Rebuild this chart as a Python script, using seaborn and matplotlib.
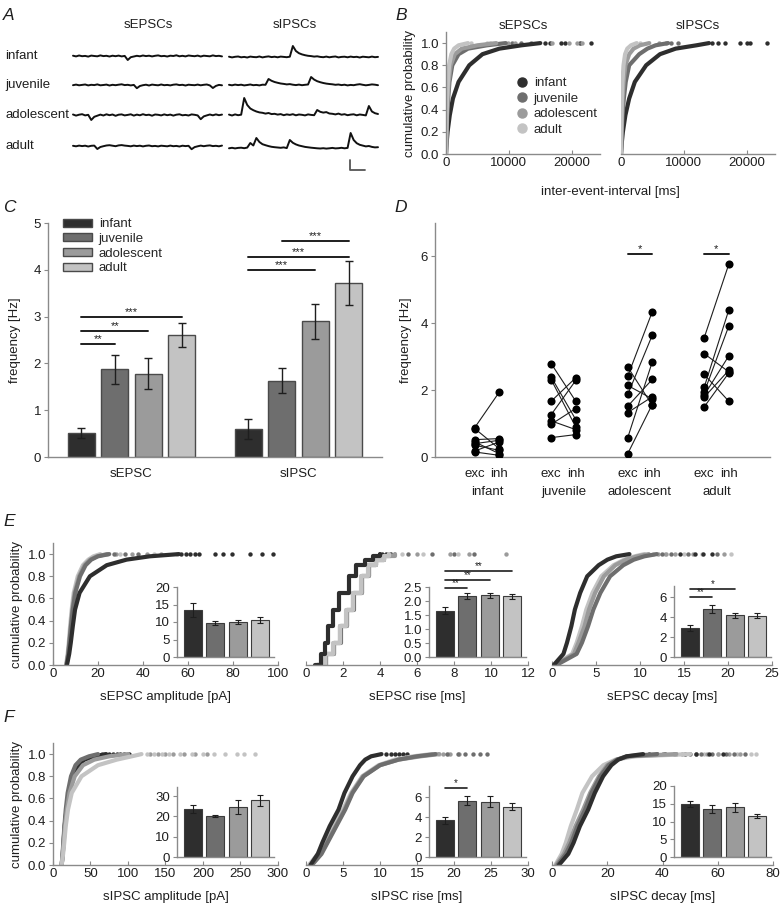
import numpy as np
import pandas as pd
import matplotlib
matplotlib.use("Agg")
import matplotlib.pyplot as plt
import seaborn as sns
from matplotlib.lines import Line2D

sns.set_theme(style="white")
plt.rcParams["font.family"] = ["Liberation Sans", "DejaVu Sans"]
FS = 9.5
plt.rcParams["font.size"] = FS

# ---------------------------------------------------------------- data
ages       = ["infant", "juvenile", "adolescent", "adult"]
age_colors = ["#2e2e2e", "#6e6e6e", "#9b9b9b", "#c3c3c3"]

# A: example traces (arbitrary units, sampled evenly along each sweep)
e_infant = [0.3,-0.4,0.5,-0.2,0.1,-0.6,0.4,0.0,-0.3,0.6,-0.1,0.2,-0.5,0.3,-0.2,0.4,-0.4,0.1,-4.0,-1.2,-0.5,0.2,-0.3,0.5,-0.1,
            0.3,-0.4,0.2,0.6,-0.2,0.1,-0.5,0.3,0.0,0.7,-0.3,0.2,-0.4,0.5,0.1,-0.2,0.4,-0.5,0.3,0.0,-0.3,0.6,-0.1,0.2,-0.4]
e_juvenile = [-0.2,0.4,-0.3,0.1,0.5,-0.4,0.2,-0.1,0.6,-0.3,0.0,0.4,-0.5,0.2,-0.2,0.3,0.7,-0.1,0.2,-0.4,0.1,-3.2,-1.0,-0.2,0.3,
              -0.5,0.4,0.0,-0.3,0.5,-0.2,0.1,-0.4,0.3,0.6,-0.1,0.2,-0.5,0.3,0.0,-0.2,0.4,-0.3,0.2,0.5,-0.4,-3.0,-0.9,0.1,-0.3]
e_adolescent = [0.5,-0.6,0.3,0.8,-0.4,0.2,-5.0,-1.8,-0.7,0.4,-0.5,0.7,-0.2,0.5,-0.8,0.3,0.6,-0.4,0.1,0.7,-0.6,0.4,-0.3,0.8,-0.1,
                0.3,-0.7,0.5,0.2,-0.4,0.6,-0.2,0.4,-0.6,0.3,0.7,-0.3,0.1,-0.5,0.6,0.2,-0.4,-4.2,-1.4,-0.4,0.5,-0.3,0.6,-0.2,0.4]
e_adult = [0.2,-0.3,0.4,-0.1,0.3,-0.5,0.2,0.4,-3.0,-1.0,-0.2,0.5,0.8,0.3,-0.2,0.6,0.9,0.4,0.1,-0.3,0.4,-0.1,0.3,-0.4,0.2,
           0.5,-0.2,0.1,-0.4,0.3,0.0,-0.3,0.4,-0.2,0.1,-0.5,0.3,-0.1,0.2,-3.2,-1.1,-0.3,0.4,-0.2,0.3,0.6,-0.1,0.2,-0.3,0.4]
i_infant = [0.3,-0.4,0.2,0.5,-0.3,0.1,-0.5,0.4,0.0,-0.2,0.5,-0.4,0.2,0.6,-0.1,0.3,-0.3,0.4,0.1,-0.2,0.3,11.0,6.0,3.8,2.6,
            1.8,1.2,0.9,0.4,0.7,0.1,-0.2,0.4,-0.3,0.2,0.5,-0.4,0.1,0.3,-0.3,0.4,-0.1,0.2,-0.5,0.3,0.0,-0.3,0.4,-0.2,0.1]
i_juvenile = [0.2,-0.3,0.4,-0.1,0.3,-0.4,0.0,0.5,-0.2,0.1,-0.4,0.3,0.2,6.0,4.2,3.0,2.2,1.5,1.1,0.6,0.9,0.3,-0.1,0.4,-0.2,
              0.2,0.5,8.0,5.4,3.8,2.8,2.0,1.4,1.0,0.7,0.2,0.5,-0.1,0.3,-0.4,0.1,-0.2,0.4,0.8,0.2,-0.3,0.1,0.6,0.3,-0.2]
i_adolescent = [0.4,-0.5,0.6,-0.2,0.3,17.0,10.0,6.5,4.8,3.5,2.6,2.2,1.4,2.0,0.9,1.2,0.4,0.9,-0.2,0.6,0.1,0.8,-0.3,0.5,0.2,
                -0.4,0.6,0.1,-0.2,5.0,3.2,2.4,2.9,1.5,1.2,0.6,1.4,0.3,0.8,-0.2,0.4,0.7,-0.3,0.5,0.1,-0.4,9.0,3.5,1.8,1.0]
i_adult = [-0.3,0.2,-0.4,0.1,0.3,-0.2,0.4,5.0,2.5,10.0,6.0,3.8,2.8,1.9,1.2,0.8,0.5,0.2,0.6,-0.1,8.0,5.2,3.6,2.5,1.8,
           1.1,0.7,0.3,0.0,-0.3,-0.5,-0.2,-0.6,-0.3,0.1,-0.4,-0.2,0.2,-0.3,0.1,15.0,8.0,4.8,3.2,2.4,1.6,2.0,1.1,0.6,0.8]

# cumulative probability levels at which the distributions were read
cdf_levels = [0, 0.1, 0.2, 0.35, 0.5, 0.65, 0.8, 0.9, 0.95, 0.98, 1.0]

# B: inter-event intervals [ms]
iei_exc = [[0, 100, 250, 600, 1100, 2000, 3700, 5800, 8500, 12000, 15000],
           [0, 40, 100, 200, 350, 550, 1000, 2000, 3500, 6500, 9500],
           [0, 30, 70, 150, 260, 420, 750, 1400, 2500, 5000, 8000],
           [0, 20, 50, 100, 180, 300, 500, 850, 1300, 2000, 3500]]
iei_exc_tail = [[15800, 16500, 18300, 19000, 21300, 23000], [10500, 12000, 13500],
                [9800, 11000, 16800, 19500, 20800, 21700], [4000, 6500, 7000]]
iei_inh = [[0, 120, 300, 700, 1300, 2200, 4000, 6200, 8700, 12000, 14000],
           [0, 50, 110, 250, 450, 750, 1300, 2900, 4200, 5500, 7500],
           [0, 30, 70, 150, 260, 420, 700, 1300, 2000, 3000, 4500],
           [0, 15, 35, 80, 140, 230, 400, 650, 1000, 1600, 2500]]
iei_inh_tail = [[14500, 15500, 16500, 19000, 20000, 20500, 23300], [8000, 9000],
                [6000, 7200], [3000]]

# C: mean frequency +/- SEM [Hz]
freq_types    = ["sEPSC", "sIPSC"]
freq_exc      = [0.51, 1.87, 1.78, 2.60]
freq_exc_sem  = [0.11, 0.32, 0.33, 0.26]
freq_inh      = [0.60, 1.63, 2.90, 3.72]
freq_inh_sem  = [0.21, 0.27, 0.37, 0.47]
sig_c_exc = [(0, 1, 2.41, "**"), (0, 2, 2.69, "**"), (0, 3, 2.99, "***")]
sig_c_inh = [(0, 2, 4.00, "***"), (0, 3, 4.28, "***"), (1, 3, 4.62, "***")]

# D: paired exc / inh frequency per cell [Hz]
d_exc = [[0.88, 0.85, 0.52, 0.45, 0.40, 0.35, 0.18, 0.15],
         [2.79, 2.39, 2.31, 1.67, 1.27, 1.08, 0.98, 0.58],
         [2.69, 2.42, 2.14, 1.87, 1.52, 1.33, 0.58, 0.10],
         [3.57, 3.09, 2.47, 2.09, 1.94, 1.85, 1.79, 1.50]]
d_inh = [[1.94, 0.25, 0.55, 0.10, 0.50, 0.20, 0.45, 0.05],
         [1.67, 1.12, 0.90, 2.37, 2.29, 0.82, 1.45, 0.67],
         [1.55, 4.34, 1.74, 3.64, 2.32, 1.80, 2.84, 1.57],
         [5.76, 2.55, 1.67, 4.39, 3.91, 3.02, 2.59, 2.51]]
d_sig = [2, 3]

# E: sEPSC kinetics
e_amp = [[6.2, 7.2, 7.9, 8.8, 9.8, 11.8, 16.4, 23.9, 32.7, 43, 56],
         [6.0, 6.8, 7.3, 8.0, 8.8, 9.9, 12.0, 14.5, 17, 20, 25],
         [6.0, 6.7, 7.2, 7.9, 8.6, 9.6, 11.6, 14, 16.5, 19.5, 24],
         [5.8, 6.5, 7.0, 7.6, 8.3, 9.2, 11.0, 13.3, 15.7, 18, 21]]
e_amp_tail = [[57, 59, 61, 63, 65, 72, 75.5, 79.5, 87.5, 93, 98], [27, 32, 38],
              [28, 35, 42, 48], [24, 30, 45, 55]]
e_rise = [[0.5, 0.8, 1.0, 1.2, 1.45, 1.8, 2.3, 2.7, 3.2, 3.6, 4.0],
          [0.6, 1.1, 1.5, 1.9, 2.2, 2.6, 3.0, 3.4, 3.8, 4.2, 4.6],
          [0.6, 1.1, 1.5, 1.85, 2.2, 2.55, 3.0, 3.4, 3.8, 4.2, 4.8],
          [0.6, 1.05, 1.45, 1.85, 2.15, 2.55, 2.95, 3.35, 3.8, 4.2, 4.5]]
e_rise_tail = [[4.1, 4.3], [5.5, 6.8, 8.0, 9.1], [6.0, 7.8, 8.8, 10.8], [5.2, 6.3, 8.2]]
e_decay = [[0.2, 1.3, 1.7, 2.2, 2.6, 3.2, 4.0, 5.3, 6.3, 7.3, 8.8],
           [0.5, 2.8, 3.4, 4.1, 4.7, 5.5, 6.6, 8.1, 9.3, 10.5, 11.9],
           [0.4, 2.5, 3.0, 3.7, 4.2, 4.9, 5.9, 7.2, 8.4, 9.7, 11.0],
           [0.3, 2.3, 2.8, 3.4, 3.9, 4.6, 5.6, 7.0, 8.2, 9.4, 10.5]]
e_decay_tail = [[14.5, 16.2, 17.2, 18.2], [12.5, 13.5, 15.5, 18.7],
                [12.0, 13.0, 14.0, 16.0, 19.5], [11.5, 12.8, 15.0, 17.0, 20.3]]

e_amp_bar,   e_amp_sem   = [13.5, 9.7, 9.9, 10.5], [2.0, 0.5, 0.6, 0.8]
e_rise_bar,  e_rise_sem  = [1.65, 2.18, 2.20, 2.17], [0.13, 0.10, 0.10, 0.09]
e_decay_bar, e_decay_sem = [2.90, 4.80, 4.20, 4.15], [0.32, 0.40, 0.25, 0.28]
e_rise_sig  = [(0, 1, 2.46, "**"), (0, 2, 2.75, "**"), (0, 3, 3.07, "**")]
e_decay_sig = [(0, 1, 6.0, "**"), (0, 2, 6.8, "*")]

# F: sIPSC kinetics
f_amp = [[11.6, 13, 14, 15.5, 18, 21, 27, 34, 42, 55, 71],
         [11.5, 12.8, 13.7, 15.2, 17, 19.5, 24, 30, 37, 48, 60],
         [11.5, 13, 14.2, 16, 18.5, 22, 29, 40, 55, 75, 100],
         [11.5, 13.5, 15, 17, 20, 25, 38, 60, 85, 105, 118]]
f_amp_tail = [[75, 80, 85, 90, 95, 102], [65, 70],
              [130, 140, 150, 160, 175, 190, 205],
              [125, 135, 145, 155, 170, 185, 200, 215, 230, 245, 255, 270]]
f_rise = [[0.6, 1.6, 2.2, 3.2, 4.4, 5.2, 6.3, 7.3, 8.0, 8.8, 10.2],
          [0.8, 2.1, 2.9, 4.1, 5.3, 6.3, 7.8, 10.0, 12.5, 15, 17.5],
          [0.7, 2.0, 2.8, 4.0, 5.2, 6.2, 7.7, 10.0, 12.5, 15.5, 18],
          [0.4, 1.6, 2.5, 3.7, 5.0, 6.1, 7.6, 9.8, 12.0, 14.5, 17]]
f_rise_tail = [[10.8, 11.5, 12, 12.6, 13.1, 13.6], [19, 20.5, 21.5, 22.5, 23.5, 24.5],
               [18.5, 19.5, 20.7], [18, 19.2]]
f_decay = [[2.5, 5.9, 7.8, 10.1, 13.1, 15.5, 18.5, 21.5, 24, 27, 33],
           [2.0, 5.0, 7.0, 9.2, 12.0, 14.3, 17.5, 20.5, 23.5, 27, 38],
           [1.5, 4.3, 6.2, 8.5, 11.3, 13.8, 17.0, 20.0, 23.5, 28, 45],
           [1.2, 3.5, 5.0, 6.8, 9.0, 11.0, 14.5, 18.6, 23, 30, 50]]
f_decay_tail = [[35, 38, 41, 44, 48, 52, 57, 62], [40, 45, 50, 54, 58, 63, 66, 70],
                [47, 52, 56, 60, 64, 68], [52, 55, 60, 67, 72, 74]]

f_amp_bar,   f_amp_sem   = [23.6, 20.2, 24.6, 28.0], [2.0, 0.6, 3.6, 2.8]
f_rise_bar,  f_rise_sem  = [3.70, 5.65, 5.55, 5.05], [0.35, 0.45, 0.55, 0.35]
f_decay_bar, f_decay_sem = [14.9, 13.5, 14.0, 11.6], [0.9, 1.2, 1.2, 0.5]
f_rise_sig = [(0, 1, 6.9, "*")]

# ---------------------------------------------------------------- helpers
W, H = 780, 910
INK, GREY, EDGE = "#1e1e1e", "#8a8a8a", "#3c3c3c"
fig = plt.figure(figsize=(W / 100, H / 100), dpi=100)


def px_box(x0, y0, x1, y1):
    return [x0 / W, 1 - y1 / H, (x1 - x0) / W, (y1 - y0) / H]


def ftext(x, y, s, **kw):
    kw.setdefault("color", INK)
    fig.text(x / W, 1 - y / H, s, **kw)


def clean(ax, left=True, xdir="out"):
    sns.despine(ax=ax, left=not left)
    for s in ("left", "bottom"):
        ax.spines[s].set_color(GREY)
        ax.spines[s].set_linewidth(1.0)
    ax.tick_params(axis="both", colors=GREY, labelcolor=INK, labelsize=FS,
                   length=3, width=0.8, pad=2, left=left, bottom=True)
    ax.tick_params(axis="x", direction=xdir)
    ax.patch.set_alpha(0)


def bar_centers(ax):
    return [p.get_x() + p.get_width() / 2 for p in ax.patches if p.get_width() > 0]


def sig_lines(ax, centers, sigs, lw=1.4, fs=8):
    for a, b, y, s in sigs:
        ax.plot([centers[a], centers[b]], [y, y], color=INK, lw=lw, clip_on=False)
        ax.text((centers[a] + centers[b]) / 2, y, s, ha="center", va="bottom",
                fontsize=fs, color=INK, clip_on=False)


def cdf_panel(rect, curves, tails, xlim, xticks, xlabel, first=False,
              steps=False, order=(3, 2, 1, 0)):
    ax = fig.add_axes(px_box(*rect))
    for k in order:
        sns.lineplot(x=curves[k], y=cdf_levels, color=age_colors[k], lw=3,
                     estimator=None, sort=False, ax=ax,
                     drawstyle="steps-post" if steps else "default")
        sns.scatterplot(x=tails[k], y=np.ones(len(tails[k])), color=age_colors[k],
                        s=10, linewidth=0, ax=ax)
    ax.set_xlim(*xlim)
    ax.set_ylim(0, 1.1)
    ax.set_xticks(xticks)
    clean(ax, left=first, xdir="in")
    if first:
        yt = np.arange(0, 1.01, 0.2)
        ax.set_yticks(yt)
        ax.set_yticklabels([f"{v:.1f}" for v in yt])
        ax.set_ylabel("cumulative probability", fontsize=FS, color=INK, labelpad=3)
    else:
        ax.set_yticks([])
    ax.set_xlabel(xlabel, fontsize=FS, color=INK, labelpad=8)
    return ax


def inset_bars(rect, vals, sems, ylim, yticks, fmt="{:g}", sigs=None):
    ax = fig.add_axes(px_box(*rect))
    sns.barplot(x=ages, y=vals, hue=ages, palette=age_colors, legend=False,
                edgecolor=EDGE, linewidth=0.8, width=0.8, ax=ax)
    cx = bar_centers(ax)
    ax.errorbar(cx, vals, yerr=sems, fmt="none", ecolor=INK, elinewidth=0.8,
                capsize=2, capthick=0.8)
    ax.set_xlim(-0.7, 3.6)
    ax.set_ylim(*ylim)
    ax.set_yticks(yticks)
    ax.set_yticklabels([fmt.format(v) for v in yticks])
    ax.set_xticks([])
    ax.set_xlabel("")
    clean(ax)
    ax.tick_params(axis="x", bottom=False)
    if sigs:
        sig_lines(ax, cx, sigs, lw=1.2, fs=7)
    return ax


# ---------------------------------------------------------------- A
axA = fig.add_axes(px_box(0, 0, 390, 185))
axA.set_xlim(0, 390)
axA.set_ylim(185, 0)
axA.axis("off")
exc_traces = [e_infant, e_juvenile, e_adolescent, e_adult]
inh_traces = [i_infant, i_juvenile, i_adolescent, i_adult]
exc_base = [56, 85, 115, 146]
inh_base = [57, 85, 115, 148]
for k, age in enumerate(ages):
    ftext(5, exc_base[k], age, fontsize=FS, va="center", ha="left")
    for tr, base, x0, x1 in ((exc_traces[k], exc_base[k], 73, 222),
                             (inh_traces[k], inh_base[k], 229, 378)):
        sns.lineplot(x=np.linspace(x0, x1, len(tr)), y=base - np.asarray(tr),
                     color="#111111", lw=1.4, estimator=None, sort=False, ax=axA)
axA.plot([350, 350, 365], [160, 170, 170], color="#555555", lw=1.3)
ftext(148, 25, "sEPSCs", fontsize=FS, ha="center", va="center")
ftext(295, 25, "sIPSCs", fontsize=FS, ha="center", va="center")

# ---------------------------------------------------------------- B
for j, (curves, tails, title, rect) in enumerate((
        (iei_exc, iei_exc_tail, "sEPSCs", (446, 32, 600, 154)),
        (iei_inh, iei_inh_tail, "sIPSCs", (621, 32, 775, 154)))):
    ax = cdf_panel(rect, curves, tails, (0, 24500), [0, 10000, 20000], "",
                   first=(j == 0), order=(0, 1, 2, 3))
    ax.set_title(title, fontsize=FS, color=INK, pad=2)
    if j == 0:
        handles = [Line2D([], [], marker="o", ls="", color=c, markersize=6.5, label=a)
                   for a, c in zip(ages, age_colors)]
        ax.legend(handles=handles, loc="upper left", bbox_to_anchor=(0.45, 0.63),
                  frameon=False, fontsize=FS, handlelength=1.0, handletextpad=0.4,
                  labelspacing=0.25, borderpad=0, borderaxespad=0)
ftext(610, 192, "inter-event-interval [ms]", fontsize=FS, ha="center", va="center")

# ---------------------------------------------------------------- C
freq_df = pd.DataFrame({
    "type": np.repeat(freq_types, len(ages)),
    "age": ages * 2,
    "freq": freq_exc + freq_inh,
    "sem": freq_exc_sem + freq_inh_sem,
})
axC = fig.add_axes(px_box(48, 223, 382, 457))
sns.barplot(data=freq_df, x="type", y="freq", hue="age", hue_order=ages,
            palette=age_colors, edgecolor="#4a4a4a", linewidth=1.0, gap=0.2,
            errorbar=None, ax=axC)
centers = {}
bar_groups = list(axC.containers)
for k, cont in enumerate(bar_groups):
    sub = freq_df[freq_df["age"] == ages[k]]
    xs = [b.get_x() + b.get_width() / 2 for b in cont]
    axC.errorbar(xs, sub["freq"], yerr=sub["sem"], fmt="none", ecolor=INK,
                 elinewidth=1.0, capsize=3, capthick=1.0)
    for t, x in zip(sub["type"], xs):
        centers.setdefault(t, []).append(x)
sig_lines(axC, centers["sEPSC"], sig_c_exc)
sig_lines(axC, centers["sIPSC"], sig_c_inh)
axC.set_xlim(-0.5, 1.5)
axC.set_ylim(0, 5)
axC.set_yticks(range(6))
axC.set_xlabel("")
axC.set_ylabel("frequency [Hz]", fontsize=FS, color=INK, labelpad=9)
clean(axC)
axC.tick_params(axis="x", bottom=False, pad=5)
h, l = axC.get_legend_handles_labels()
axC.legend(h, l, loc="upper left", bbox_to_anchor=(0.045, 1.02), frameon=False,
           fontsize=FS, handlelength=2.2, handleheight=0.55, handletextpad=0.5,
           labelspacing=0.2, borderpad=0, borderaxespad=0)

# ---------------------------------------------------------------- D
off = 0.16
rows = []
for g, age in enumerate(ages):
    for c, (e, i) in enumerate(zip(d_exc[g], d_inh[g])):
        rows.append((f"{age}{c}", g - off, e))
        rows.append((f"{age}{c}", g + off, i))
pair_df = pd.DataFrame(rows, columns=["cell", "pos", "freq"])
axD = fig.add_axes(px_box(435, 223, 770, 457))
sns.lineplot(data=pair_df, x="pos", y="freq", units="cell", estimator=None,
             color=INK, lw=0.8, sort=False, ax=axD)
sns.scatterplot(data=pair_df, x="pos", y="freq", color="black", s=34,
                linewidth=0, zorder=3, ax=axD)
axD.set_xlim(-0.68, 3.7)
axD.set_ylim(0, 7)
axD.set_yticks([0, 2, 4, 6])
ticks = [g + s for g in range(len(ages)) for s in (-off, off)]
axD.set_xticks(ticks)
axD.set_xticklabels(["exc", "inh"] * len(ages))
for g, age in enumerate(ages):
    axD.text(g, -0.15, age, transform=axD.get_xaxis_transform(), ha="center",
             va="center", fontsize=FS, color=INK)
for g in d_sig:
    axD.plot([g - off, g + off], [6.06, 6.06], color=INK, lw=1.4)
    axD.text(g, 6.06, "*", ha="center", va="bottom", fontsize=8, color=INK)
axD.set_xlabel("")
axD.set_ylabel("frequency [Hz]", fontsize=FS, color=INK, labelpad=6)
clean(axD)
axD.tick_params(axis="x", bottom=False, pad=5)

# ---------------------------------------------------------------- E
cdf_panel((53, 543, 278, 665), e_amp, e_amp_tail, (0, 100), range(0, 101, 20),
          "sEPSC amplitude [pA]", first=True)
cdf_panel((306, 543, 528, 665), e_rise, e_rise_tail, (0, 12), range(0, 13, 2),
          "sEPSC rise [ms]", steps=True, order=(1, 2, 3, 0))
cdf_panel((552, 543, 772, 665), e_decay, e_decay_tail, (0, 25), range(0, 26, 5),
          "sEPSC decay [ms]")
inset_bars((177, 587, 274, 657), e_amp_bar, e_amp_sem, (0, 20), [0, 5, 10, 15, 20])
inset_bars((429, 587, 526, 657), e_rise_bar, e_rise_sem, (0, 2.5),
           [0, 0.5, 1.0, 1.5, 2.0, 2.5], fmt="{:.1f}", sigs=e_rise_sig)
inset_bars((674, 586, 771, 657), e_decay_bar, e_decay_sem, (0, 7.1), [0, 2, 4, 6],
           sigs=e_decay_sig)

# ---------------------------------------------------------------- F
cdf_panel((53, 743, 278, 865), f_amp, f_amp_tail, (0, 300), range(0, 301, 50),
          "sIPSC amplitude [pA]", first=True, order=(0, 1, 2, 3))
cdf_panel((306, 743, 528, 865), f_rise, f_rise_tail, (0, 30), range(0, 31, 5),
          "sIPSC rise [ms]")
cdf_panel((552, 743, 773, 865), f_decay, f_decay_tail, (0, 80), range(0, 81, 20),
          "sIPSC decay [ms]")
inset_bars((177, 787, 274, 857), f_amp_bar, f_amp_sem, (0, 34.5), [0, 10, 20, 30])
inset_bars((429, 786, 526, 857), f_rise_bar, f_rise_sem, (0, 7.1), [0, 2, 4, 6],
           sigs=f_rise_sig)
inset_bars((674, 786, 771, 857), f_decay_bar, f_decay_sem, (0, 20), [0, 5, 10, 15, 20])

# ---------------------------------------------------------------- panel letters
for letter, x, y in (("A", 9, 15), ("B", 401, 15), ("C", 9, 207),
                     ("D", 401, 207), ("E", 9, 521), ("F", 9, 718)):
    ftext(x, y, letter, fontsize=12.5, style="italic", ha="center", va="center")

fig.savefig("out.png", dpi=100)
